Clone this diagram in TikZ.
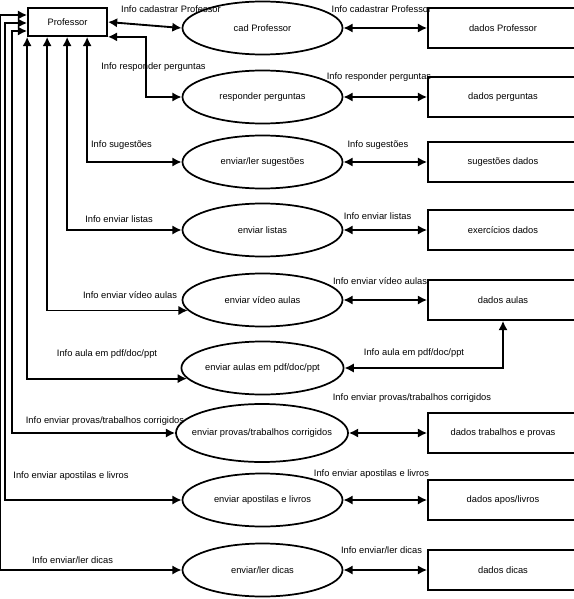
\documentclass[tikz,border=0pt]{standalone}
\usepackage{fontspec}
\setmainfont{Liberation Sans}
\usetikzlibrary{shapes.geometric,arrows.meta,calc}

\begin{document}
\begin{tikzpicture}[x=0.75pt, y=-0.75pt,
  every node/.style={font=\fontsize{7}{8}\selectfont},
  flow/.style={<->, >={Latex[length=7pt,width=7pt]}, line width=1.4pt},
  proc/.style={draw, ellipse, line width=1.3pt, minimum width=120pt, minimum height=39.75pt, inner sep=0pt},
  store/.style={draw, rectangle, line width=1.3pt, minimum width=112.5pt, minimum height=30pt},
  lbl/.style={inner sep=0pt}]

\useasboundingbox (0,0) rectangle (574,599);

% Professor entity
\node[draw, line width=1.3pt, minimum width=59.25pt, minimum height=21pt] (prof) at (67.5,22) {Professor};

% processes
\node[proc] (cad)  at (262.5,28)  {cad Professor};
\node[proc] (resp) at (262.5,97)  {responder perguntas};
\node[proc] (sug)  at (262.5,162) {enviar/ler sugestões};
\node[proc] (lis)  at (262.5,230) {enviar listas};
\node[proc] (vid)  at (262.5,300) {enviar vídeo aulas};
\node[proc] (pdf)  at (262.5,368) {enviar aulas em pdf/doc/ppt};
\node[proc, inner xsep=-9pt, minimum width=129pt, minimum height=43.5pt] (prov) at (262,433) {enviar provas/trabalhos corrigidos};
\node[proc] (apo)  at (262.5,500) {enviar apostilas e livros};
\node[proc] (dic)  at (262.5,570) {enviar/ler dicas};

% data stores
\node[store] (dprof) at (503,28)  {dados Professor};
\node[store] (dperg) at (503,97)  {dados perguntas};
\node[store] (dsug)  at (503,162) {sugestões dados};
\node[store] (dexe)  at (503,230) {exercícios dados};
\node[store] (daul)  at (503,300) {dados aulas};
\node[store] (dtrab) at (503,433) {dados trabalhos e provas};
\node[store] (dapo)  at (503,500) {dados apos/livros};
\node[store] (ddic)  at (503,570) {dados dicas};

% Professor to processes
\draw[flow] (prof.east) -- (cad.west);
\draw[flow] (prof.south east) -- ++(38,0) |- (resp.west);
\draw[flow] ($(prof.south west)+(60,0)$) |- (sug.west);
\draw[flow] ($(prof.south west)+(40,0)$) |- (lis.west);
\draw[flow] ($(prof.south west)+(20,0)$) |- (vid.188);
\draw[flow] (prof.south west) |- (pdf.188);
\draw[flow] ($(prof.west)+(0,9)$) -- ++(-15,0) |- (prov.west);
\draw[flow] ($(prof.west)+(0,1)$) -- ++(-22,0) |- (apo.west);
\draw[flow] ($(prof.west)+(0,-7)$) -- ++(-27,0) |- (dic.west);

% processes to data stores
\draw[flow] (cad.east) -- (dprof.west);
\draw[flow] (resp.east) -- (dperg.west);
\draw[flow] (sug.east) -- (dsug.west);
\draw[flow] (lis.east) -- (dexe.west);
\draw[flow] (vid.east) -- (daul.west);
\draw[flow] (pdf.east) -| (daul.south);
\draw[flow] (prov.east) -- (dtrab.west);
\draw[flow] (apo.east) -- (dapo.west);
\draw[flow] (dic.east) -- (ddic.west);

% labels, left side
\node[lbl] (lcad)  at (171,9)    {Info cadastrar Professor};
\node[lbl] (lresp) at (153.5,67) {Info responder perguntas};
\node[lbl] (lsug)  at (121.5,145) {Info sugestões};
\node[lbl] (llis)  at (119,219)  {Info enviar listas};
\node[lbl] (lvid)  at (130,295)  {Info enviar vídeo aulas};
\node[lbl] (lpdf)  at (107,354)  {Info aula em pdf/doc/ppt};
\node[lbl] (lprov) at (105,421)  {Info enviar provas/trabalhos corrigidos};
\node[lbl] (lapo)  at (71,476)   {Info enviar apostilas e livros};
\node[lbl] (ldic)  at (72.5,560) {Info enviar/ler dicas};

% labels, right side
\node[lbl] (rcad)  at (381.5,9)   {Info cadastrar Professor};
\node[lbl] (rresp) at (379,77)    {Info responder perguntas};
\node[lbl] (rsug)  at (378,145)   {Info sugestões};
\node[lbl] (rlis)  at (377.5,216) {Info enviar listas};
\node[lbl] (rvid)  at (380,281)   {Info enviar vídeo aulas};
\node[lbl] (rpdf)  at (414,353)   {Info aula em pdf/doc/ppt};
\node[lbl] (rprov) at (412,398)   {Info enviar provas/trabalhos corrigidos};
\node[lbl] (rapo)  at (371.5,474) {Info enviar apostilas e livros};
\node[lbl] (rdic)  at (381.5,550) {Info enviar/ler dicas};

\end{tikzpicture}
\end{document}
